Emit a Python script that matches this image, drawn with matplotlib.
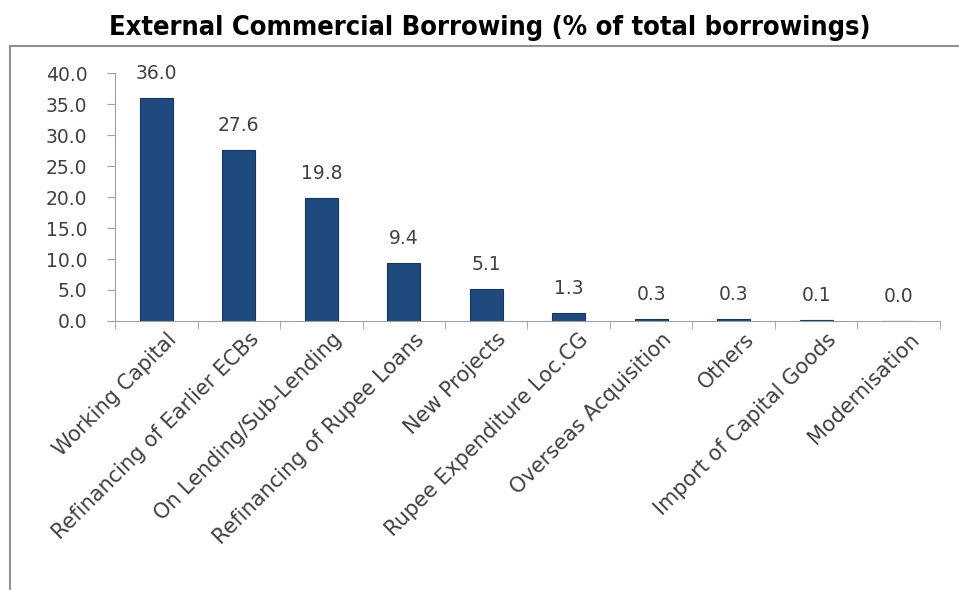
import matplotlib
matplotlib.use("Agg")
import matplotlib.pyplot as plt
from matplotlib.lines import Line2D
import matplotlib.transforms as mtransforms

categories = ["Working Capital", "Refinancing of Earlier ECBs", "On Lending/Sub-Lending",
              "Refinancing of Rupee Loans", "New Projects", "Rupee Expenditure Loc.CG",
              "Overseas Acquisition", "Others", "Import of Capital Goods", "Modernisation"]
values = [36.0, 27.6, 19.8, 9.4, 5.1, 1.3, 0.3, 0.3, 0.1, 0.0]
yticks = [0, 5, 10, 15, 20, 25, 30, 35, 40]

fig = plt.figure(figsize=(9.59, 5.90), dpi=100)
ax = fig.add_axes([0.12, 0.456, 0.86, 0.42])

bar_color = "#1f4a7e"
x = list(range(len(categories)))
ax.bar(x, values, width=0.4, color=bar_color, edgecolor="#17365d", linewidth=0.8)
for xi, v in zip(x, values):
    ax.text(xi, v + 2.4, f"{v:.1f}", ha="center", va="bottom", fontsize=13.5, color="#404040")

ax.set_xlim(-0.5, len(categories) - 0.5)
ax.set_ylim(0, 40)
ax.set_yticks(yticks)
ax.set_yticklabels([f"{t:.1f}" for t in yticks], fontsize=13.5, color="#404040")
ax.set_xticks(x)
ax.set_xticklabels(categories, rotation=45, ha="right", rotation_mode="anchor",
                   fontsize=15, color="#404040")
ax.tick_params(axis="x", length=0, pad=6)
shift = mtransforms.ScaledTranslation(10/100, 0, fig.dpi_scale_trans)
for lbl in ax.get_xticklabels():
    lbl.set_transform(lbl.get_transform() + shift)
ax.set_xticks([i - 0.5 for i in range(len(categories) + 1)], minor=True)
ax.tick_params(axis="x", which="minor", length=6, direction="out", color="#a0a0a0")
ax.tick_params(axis="y", length=6, direction="out", color="#a0a0a0", pad=14)
for s in ["top", "right"]:
    ax.spines[s].set_visible(False)
for s in ["left", "bottom"]:
    ax.spines[s].set_color("#a0a0a0")

fig.text(0.511, 0.952, "External Commercial Borrowing (% of total borrowings)",
         ha="center", va="center", fontsize=19.5, fontweight="bold",
         family="DejaVu Sans", fontstretch="condensed")

# outer frame (top and left edges visible)
fig.add_artist(Line2D([10/959, 1.0], [1 - 46/590, 1 - 46/590], transform=fig.transFigure,
                      color="#909090", lw=1.5))
fig.add_artist(Line2D([10/959, 10/959], [1 - 46/590, 0.0], transform=fig.transFigure,
                      color="#909090", lw=1.5))

fig.savefig("out.png", dpi=100)
